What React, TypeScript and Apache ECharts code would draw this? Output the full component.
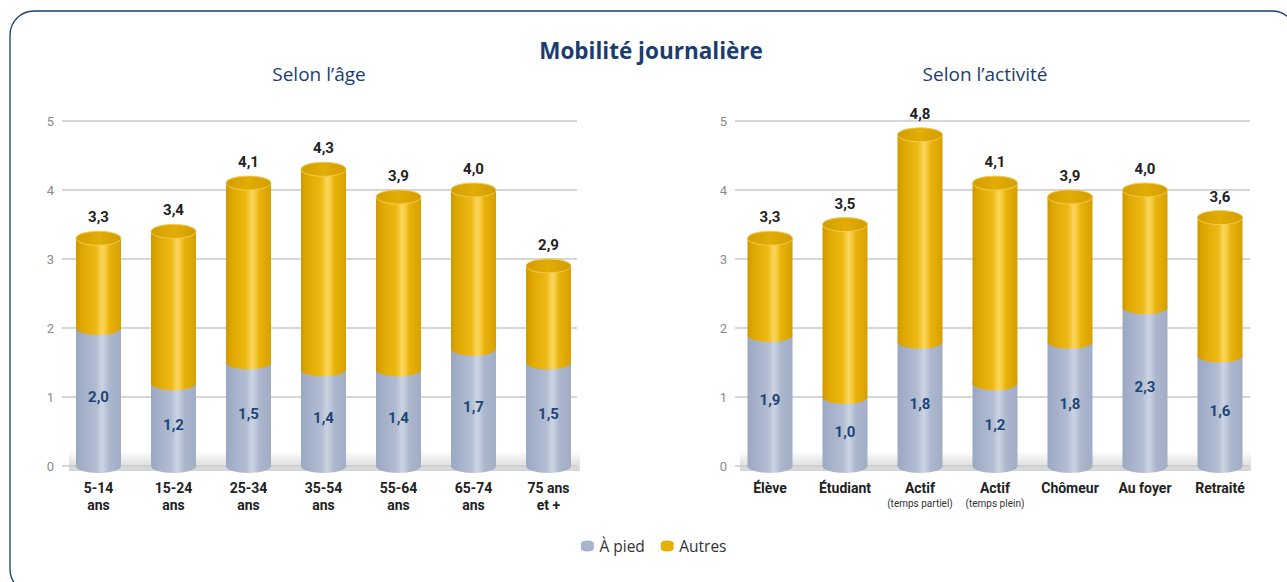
import React, { useEffect, useRef } from 'react';
import * as echarts from 'echarts';

const ageCategories = ['5-14\nans', '15-24\nans', '25-34\nans', '35-54\nans', '55-64\nans', '65-74\nans', '75 ans\net +'];
const agePied = [2.0, 1.2, 1.5, 1.4, 1.4, 1.7, 1.5];
const ageTotal = [3.3, 3.4, 4.1, 4.3, 3.9, 4.0, 2.9];

const actCategories = ['Élève', 'Étudiant', 'Actif (temps partiel)', 'Actif (temps plein)', 'Chômeur', 'Au foyer', 'Retraité'];
const actPied = [1.9, 1.0, 1.8, 1.2, 1.8, 2.3, 1.6];
const actTotal = [3.3, 3.5, 4.8, 4.1, 3.9, 4.0, 3.6];

const yMin = 0;
const yMax = 5;
const yStep = 1;

const BLUE = '#a9b5cc';
const GOLD = '#e8b000';
const NAVY = '#1b3d6e';
const FONT = 'Roboto, "Noto Sans", sans-serif';
const TFONT = '"Open Sans", sans-serif';

const fmt = (v: number) => v.toFixed(1).replace('.', ',');

const goldStops = [
  { offset: 0, color: '#cf9900' },
  { offset: 0.12, color: '#dfa600' },
  { offset: 0.45, color: '#eeb914' },
  { offset: 0.58, color: '#fad65e' },
  { offset: 0.66, color: '#f5c93a' },
  { offset: 0.74, color: '#e9b20a' },
  { offset: 1, color: '#d7a000' },
];
const blueStops = [
  { offset: 0, color: '#9ba8c3' },
  { offset: 0.45, color: '#b2bdd3' },
  { offset: 0.58, color: '#ccd4e3' },
  { offset: 0.66, color: '#bdc7da' },
  { offset: 0.74, color: '#acb7cd' },
  { offset: 1, color: '#a1adc6' },
];

function cylinder(kind: 'pied' | 'autres') {
  return (params: any, api: any) => {
    const i = api.value(0);
    const lo = api.value(1);
    const hi = api.value(2);
    const total = api.value(3);
    const b = api.coord([i, lo]);
    const t = api.coord([i, hi]);
    const w = api.size([1, 0])[0] * 0.6;
    const cx = b[0];
    const ry = 7;
    const fill = new echarts.graphic.LinearGradient(0, 0, 1, 0, kind === 'pied' ? blueStops : goldStops);
    const children: any[] = [
      { type: 'ellipse', shape: { cx, cy: b[1], rx: w / 2, ry }, style: { fill } },
      { type: 'rect', shape: { x: cx - w / 2, y: t[1], width: w, height: b[1] - t[1] }, style: { fill } },
    ];
    if (kind === 'autres') {
      children.push({
        type: 'ellipse',
        shape: { cx, cy: t[1], rx: w / 2, ry },
        style: {
          fill: new echarts.graphic.LinearGradient(0, 0, 1, 0, [
            { offset: 0, color: '#d39d00' },
            { offset: 0.5, color: '#e2ad06' },
            { offset: 1, color: '#d39d00' },
          ]),
          stroke: '#f3cc52',
          lineWidth: 1,
        },
      });
      children.push({
        type: 'text',
        x: cx,
        y: t[1] - 21,
        style: { text: fmt(total), fill: '#222', font: `bold 15px ${FONT}`, align: 'center', verticalAlign: 'middle' },
      });
    } else {
      children.push({
        type: 'text',
        x: cx,
        y: (b[1] + t[1]) / 2,
        style: { text: fmt(hi), fill: '#1d4677', font: `bold 15px ${FONT}`, align: 'center', verticalAlign: 'middle' },
      });
    }
    return { type: 'group', children };
  };
}

function buildData(pied: number[], total: number[], kind: 'pied' | 'autres') {
  return pied.map((p, i) => (kind === 'pied' ? [i, 0, p, total[i]] : [i, p, total[i], total[i]]));
}

const catFormatter = (v: string) => {
  const m = v.match(/^(.*?) \((.*)\)$/);
  if (m) return `${m[1]}\n{s|(${m[2]})}`;
  return v;
};

const CYL_ICON = 'path://M0,3 A7,3 0 0 1 14,3 L14,9 A7,3 0 0 1 0,9 Z';

export default function App() {
  const ref = useRef<HTMLDivElement>(null);
  useEffect(() => {
    if (!ref.current) return;
    const chart = echarts.init(ref.current, undefined, { renderer: 'svg' });
    const top = 121;
    const bottom = 116;
    const grids = [
      { left: 61, right: 701, top, bottom },
      { left: 62, right: 710, top, bottom },
      { left: 732.5, right: 29.5, top, bottom },
      { left: 735, right: 37, top, bottom },
    ];
    const xLabel = {
      color: '#222',
      fontWeight: 'bold' as const,
      fontSize: 14,
      fontFamily: FONT,
      lineHeight: 17,
      margin: 13,
      interval: 0,
      formatter: catFormatter,
      rich: { s: { fontSize: 10, fontWeight: 'normal' as const, color: '#333', lineHeight: 14, fontFamily: FONT } },
    };
    const mkX = (gi: number, data: string[] | null, show: boolean) => ({
      type: 'category',
      gridIndex: gi,
      data: data ?? ['a'],
      show,
      axisLine: { show: false },
      axisTick: { show: false },
      axisLabel: xLabel,
    });
    const mkY = (gi: number, show: boolean) => ({
      type: 'value',
      gridIndex: gi,
      min: yMin,
      max: yMax,
      interval: yStep,
      show,
      axisLine: { show: false },
      axisTick: { show: false },
      axisLabel: { color: '#8a8a8a', fontSize: 13, fontFamily: FONT, margin: 8 },
      splitLine: { show, lineStyle: { color: '#c9c9c9', width: 1.5 } },
    });
    const floorGrad = () =>
      new echarts.graphic.LinearGradient(0, 0, 0, 1, [
        { offset: 0, color: 'rgba(255,255,255,1)' },
        { offset: 1, color: '#d3d3d3' },
      ]);
    const option: any = {
      animation: false,
      backgroundColor: '#fff',
      title: [
        { text: 'Mobilité journalière', left: 646, textAlign: 'center', top: 34, textStyle: { color: NAVY, fontSize: 22.5, fontWeight: 'bold', fontFamily: TFONT } },
        { text: 'Selon l’âge', left: 314, textAlign: 'center', top: 59, textStyle: { color: NAVY, fontSize: 19, fontWeight: 'normal', fontFamily: TFONT } },
        { text: 'Selon l’activité', left: 980, textAlign: 'center', top: 59, textStyle: { color: NAVY, fontSize: 19, fontWeight: 'normal', fontFamily: TFONT } },
      ],
      legend: {
        top: 533,
        left: 576,
        itemWidth: 14,
        itemHeight: 11,
        itemGap: 16,
        textStyle: { color: '#333', fontSize: 15.5, fontFamily: TFONT },
        data: [
          { name: 'À pied', icon: CYL_ICON },
          { name: 'Autres', icon: CYL_ICON },
        ],
      },
      graphic: [
        { type: 'rect', z: -10, shape: { x: 10, y: 11, width: 1286, height: 582, r: 24 }, style: { fill: '#fff', stroke: NAVY, lineWidth: 1.3 } },
        { type: 'rect', z: -5, shape: { x: 69, y: 451, width: 511, height: 20 }, style: { fill: floorGrad() } },
        { type: 'rect', z: -5, shape: { x: 740, y: 451, width: 511, height: 20 }, style: { fill: floorGrad() } },
      ],
      grid: grids,
      xAxis: [mkX(0, ageCategories, true), mkX(1, null, false), mkX(2, actCategories, true), mkX(3, null, false)],
      yAxis: [mkY(0, false), mkY(1, true), mkY(2, false), mkY(3, true)],
      series: [
        { name: 'À pied', type: 'custom', xAxisIndex: 0, yAxisIndex: 0, itemStyle: { color: BLUE }, encode: { x: 0, y: [1, 2] }, renderItem: cylinder('pied'), data: buildData(agePied, ageTotal, 'pied'), z: 3 },
        { name: 'Autres', type: 'custom', xAxisIndex: 0, yAxisIndex: 0, itemStyle: { color: GOLD }, encode: { x: 0, y: [1, 2] }, renderItem: cylinder('autres'), data: buildData(agePied, ageTotal, 'autres'), z: 4 },
        { name: 'À pied', type: 'custom', xAxisIndex: 2, yAxisIndex: 2, itemStyle: { color: BLUE }, encode: { x: 0, y: [1, 2] }, renderItem: cylinder('pied'), data: buildData(actPied, actTotal, 'pied'), z: 3 },
        { name: 'Autres', type: 'custom', xAxisIndex: 2, yAxisIndex: 2, itemStyle: { color: GOLD }, encode: { x: 0, y: [1, 2] }, renderItem: cylinder('autres'), data: buildData(actPied, actTotal, 'autres'), z: 4 },
      ],
    };
    chart.setOption(option);
    return () => chart.dispose();
  }, []);
  return <div ref={ref} style={{ position: 'fixed', left: 0, top: 0, width: 1287, height: 582 }} />;
}
